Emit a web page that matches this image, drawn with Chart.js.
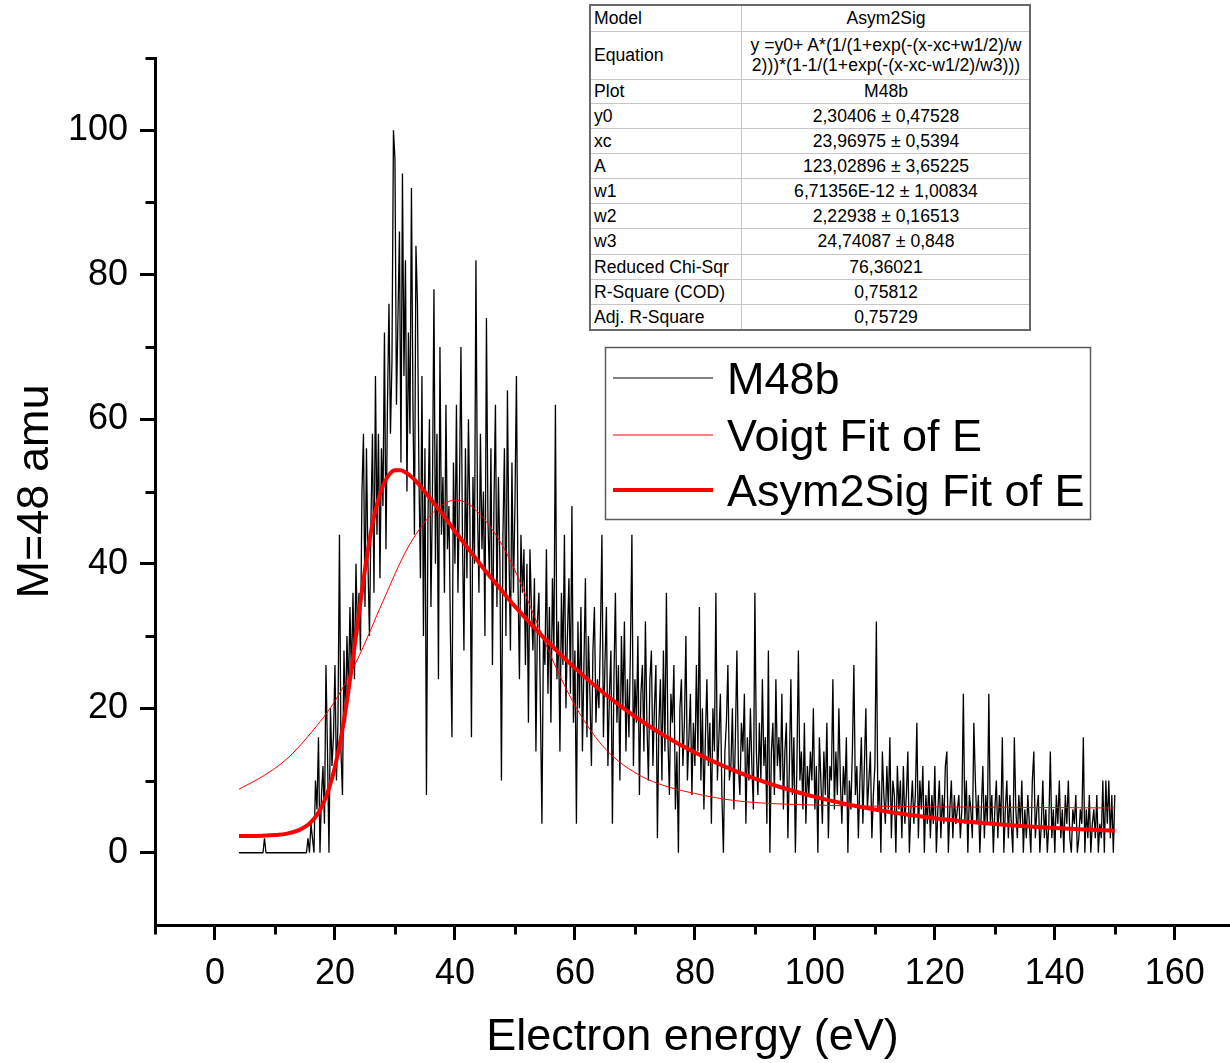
<!DOCTYPE html>
<html>
<head>
<meta charset="utf-8">
<script src="https://cdn.jsdelivr.net/npm/chart.js@4.4.1/dist/chart.umd.min.js"></script>
<style>
html,body{margin:0;padding:0;background:#fff;}
#wrap{position:relative;width:1230px;height:1063px;overflow:hidden;background:#fff;}
#c{position:absolute;left:0;top:0;}
#fitTable{position:absolute;left:589px;top:4px;width:442px;border-collapse:collapse;
  font-family:"Liberation Sans",Arial,sans-serif;font-size:17.6px;color:#000;background:#fff;
  border:2px solid #6a6a6a;}
#fitTable td{border:1px solid #c6c6c6;padding:0 2px 0 3px;line-height:20px;vertical-align:middle;white-space:nowrap;}
#fitTable td.l{width:145px;text-align:left;}
#fitTable td.v{text-align:center;}
</style>
</head>
<body>
<div id="wrap">
<canvas id="c" width="1230" height="1063"></canvas>
<table id="fitTable"><tbody id="fitBody"></tbody></table>
</div>
<script>
// ---------- data ----------
// M48b measured signal, regular energy grid
const m48bStart = 4;      // eV
const m48bStep = 0.25;    // eV
const m48bCounts = [
  0,0,0,0,0,0,0,0,0,0,0,0,0,0,0,0,0,2,0,0,            // 4 - 8.75
  0,0,0,0,0,0,0,0,0,0,0,0,0,0,0,0,0,0,0,0,            // 9 - 13.75
  0,0,0,0,0,0,2,0,4,2,0,10,6,16,0,8,12,4,26,14,       // 14 - 18.75
  0,20,12,16,26,10,18,44,14,8,28,18,30,22,34,24,36,24,40,30,   // 19 - 23.75
  36,28,50,58,34,56,40,30,46,58,36,66,44,58,38,56,48,72,42,62, // 24 - 28.75
  76,58,68,100,96,62,74,86,54,94,66,82,50,72,58,92,62,44,84,76, // 29 - 33.75
  52,38,66,30,56,8,46,60,34,50,78,40,58,24,70,44,52,36,62,42,  // 34 - 38.75
  48,30,16,54,40,62,36,50,70,44,28,56,38,60,46,16,52,40,82,48, // 39 - 43.75
  36,58,42,50,30,74,46,38,56,26,48,62,34,52,40,10,44,56,30,64, // 44 - 48.75
  42,28,54,36,48,66,38,24,44,36,42,26,40,18,42,34,28,38,14,32, // 49 - 53.75
  36,20,4,30,26,42,22,34,18,38,28,62,24,32,14,36,26,44,20,30,  // 54 - 58.75
  38,22,48,18,28,4,32,20,34,14,26,38,16,30,22,12,28,34,18,24,  // 59 - 63.75
  20,30,44,16,26,34,12,22,28,4,24,36,18,26,10,30,20,32,14,24,  // 64 - 68.75
  16,28,44,12,24,18,30,8,22,26,14,32,18,10,24,28,12,20,26,2,   // 69 - 73.75
  18,24,10,28,14,36,16,8,22,18,26,6,14,0,20,24,12,18,30,10,    // 74 - 78.75
  16,22,8,18,12,26,14,34,10,20,6,16,24,12,18,4,20,14,36,10,    // 79 - 83.75
  16,22,8,0,14,18,26,10,12,20,6,16,28,12,8,18,14,22,4,16,      // 84 - 88.75
  10,20,12,6,36,14,8,18,10,24,12,16,4,28,0,14,18,8,24,12,      // 89 - 93.75
  16,10,22,6,14,18,2,12,24,8,16,0,12,28,10,14,6,18,4,12,       // 94 - 98.75
  8,14,10,20,6,12,0,16,10,4,14,8,18,2,12,10,24,6,14,8,         // 99 - 103.75
  20,10,4,12,8,16,0,10,6,14,26,8,12,2,10,16,4,12,20,6,         // 104 - 108.75
  10,14,2,8,12,32,6,10,0,14,8,4,12,6,16,2,10,8,0,12,           // 109 - 113.75
  6,10,2,12,4,8,14,0,6,10,4,8,18,2,10,6,12,0,8,4,              // 114 - 118.75
  10,2,8,4,12,0,6,10,2,8,4,12,14,0,6,10,2,8,4,6,               // 119 - 123.75
  8,2,6,22,4,10,0,8,6,2,18,10,4,8,0,6,12,2,8,4,                // 124 - 128.75
  22,4,8,0,6,10,2,8,4,16,0,6,10,2,8,4,0,16,6,2,                // 129 - 133.75
  8,4,10,0,6,2,8,4,0,10,14,2,6,8,0,4,10,2,6,0,                 // 134 - 138.75
  4,14,2,6,0,8,4,10,2,6,0,8,4,10,2,0,6,4,8,0,                  // 139 - 143.75
  2,6,4,16,0,6,2,8,0,4,6,2,8,0,4,2,10,0,10,4,                  // 144 - 148.75
  10,2,8,0,8                                                   // 149 - 150
];

// Voigt fit curve
const voigtEnergy = [4,8,12,16,20,24,28,32,36,38,40,42,44,46,48,50,52,54,56,58,60,62,64,66,68,70,72,76,80,85,90,100,110,120,130,140,150];
const voigtValues = [8.8,10.6,13.0,16.6,21.0,27.2,34.8,42.0,46.8,48.2,48.8,48.4,47.0,45.0,42.4,39.1,35.2,31.2,27.2,23.6,20.4,17.7,15.4,13.6,12.2,11.1,10.2,9.0,8.2,7.4,6.95,6.6,6.45,6.35,6.3,6.25,6.2];

// Asym2Sig fit curve
const asymEnergy = [4,8,10,12,14,15,16,17,18,19,20,21,22,23,24,25,26,27,28,29,30,31,32,33,34,36,38,40,42.5,45,47.5,50,55,60,65,70,75,80,85,90,95,100,105,110,115,120,125,130,135,140,145,150];
const asymValues = [2.31,2.36,2.45,2.65,3.13,3.57,4.24,5.24,6.73,8.87,11.87,15.9,21.0,26.9,33.2,39.2,44.4,48.2,50.8,52.3,52.95,52.95,52.5,51.85,50.96,48.9,46.8,44.5,41.8,39.1,36.6,34.1,29.6,25.55,21.98,18.86,16.17,13.87,11.92,10.27,8.89,7.74,6.78,5.99,5.33,4.78,4.34,3.97,3.67,3.42,3.22,3.05];

const seriesLabels = ['M48b','Voigt Fit of E','Asym2Sig Fit of E'];

// axes
const xTickValues = [0,20,40,60,80,100,120,140,160];
const xMinorTicks = [-10,10,30,50,70,90,110,130,150];
const yTickValues = [0,20,40,60,80,100];
const yMinorTicks = [10,30,50,70,90,110];
const xTitle = 'Electron energy (eV)';
const yTitle = 'M=48 amu';

// fit report table
const fitTableLabels = ['Model','Equation','Plot','y0','xc','A','w1','w2','w3','Reduced Chi-Sqr','R-Square (COD)','Adj. R-Square'];
const fitTableValues = ['Asym2Sig',
  'y =y0+ A*(1/(1+exp(-(x-xc+w1/2)/w\n2)))*(1-1/(1+exp(-(x-xc-w1/2)/w3)))',
  'M48b','2,30406 \u00b1 0,47528','23,96975 \u00b1 0,5394','123,02896 \u00b1 3,65225',
  '6,71356E-12 \u00b1 1,00834','2,22938 \u00b1 0,16513','24,74087 \u00b1 0,848',
  '76,36021','0,75812','0,75729'];

// ---------- build ----------
const FONT = '"Liberation Sans", Arial, sans-serif';
const rowHeights = [26,48,24,25,25,25,25,25,26,25,25,26];
const body = document.getElementById('fitBody');
fitTableLabels.forEach((lab, i) => {
  const tr = document.createElement('tr');
  tr.style.height = rowHeights[i] + 'px';
  const a = document.createElement('td'); a.className = 'l'; a.textContent = lab;
  const b = document.createElement('td'); b.className = 'v';
  fitTableValues[i].split('\n').forEach((ln, k) => {
    if (k) b.appendChild(document.createElement('br'));
    b.appendChild(document.createTextNode(ln));
  });
  tr.appendChild(a); tr.appendChild(b); body.appendChild(tr);
});

const m48bPoints = m48bCounts.map((v, i) => ({x: m48bStart + i * m48bStep, y: v}));
const voigtPoints = voigtEnergy.map((e, i) => ({x: e, y: voigtValues[i]}));
const asymPoints = asymEnergy.map((e, i) => ({x: e, y: asymValues[i]}));

const minorTickPlugin = {
  id: 'minorTicks',
  afterDraw(chart) {
    const ctx = chart.ctx, xs = chart.scales.x, ys = chart.scales.y, a = chart.chartArea;
    ctx.save();
    ctx.strokeStyle = '#000'; ctx.lineWidth = 3; ctx.lineCap = 'butt';
    xMinorTicks.forEach(v => {
      const p = Math.round(xs.getPixelForValue(v)) + 0.5;
      ctx.beginPath(); ctx.moveTo(p, a.bottom + 1); ctx.lineTo(p, a.bottom + 9.5); ctx.stroke();
    });
    yMinorTicks.forEach(v => {
      const p = Math.round(ys.getPixelForValue(v)) + 0.5;
      ctx.beginPath(); ctx.moveTo(a.left - 1, p); ctx.lineTo(a.left - 9.5, p); ctx.stroke();
    });
    ctx.restore();
  }
};

const legendBoxPlugin = {
  id: 'legendBox',
  afterDraw(chart) {
    const ctx = chart.ctx;
    const box = {left: 605, top: 347, width: 486, height: 173};
    ctx.save();
    ctx.fillStyle = '#fff';
    ctx.fillRect(box.left, box.top, box.width, box.height);
    ctx.strokeStyle = '#5a5a5a'; ctx.lineWidth = 1.5;
    ctx.strokeRect(box.left + 0.5, box.top + 0.5, box.width - 1, box.height - 1);
    const rowsY = [378, 435, 490];
    ctx.font = '45px ' + FONT;
    ctx.textBaseline = 'alphabetic';
    ctx.textAlign = 'left';
    chart.data.datasets.forEach((ds, i) => {
      const y = rowsY[i];
      ctx.strokeStyle = ds.borderColor; ctx.lineWidth = ds.legendLineWidth || ds.borderWidth;
      ctx.beginPath(); ctx.moveTo(613, y); ctx.lineTo(713, y); ctx.stroke();
      ctx.fillStyle = '#000';
      ctx.fillText(ds.label, 727, y + 16);
    });
    ctx.restore();
  }
};

new Chart(document.getElementById('c'), {
  type: 'line',
  data: {
    datasets: [
      {label: seriesLabels[0], data: m48bPoints, borderColor: '#000000', borderWidth: 1.3, legendLineWidth: 1,
       pointRadius: 0, tension: 0, borderJoinStyle: 'bevel', order: 3},
      {label: seriesLabels[1], data: voigtPoints, borderColor: '#ff0000', borderWidth: 1,
       pointRadius: 0, cubicInterpolationMode: 'monotone', order: 2},
      {label: seriesLabels[2], data: asymPoints, borderColor: '#ff0000', borderWidth: 4,
       pointRadius: 0, cubicInterpolationMode: 'monotone', order: 1}
    ]
  },
  options: {
    responsive: false,
    animation: false,
    parsing: false,
    layout: {padding: {top: 58, right: 0, bottom: 0, left: 0}},
    plugins: {legend: {display: false}, tooltip: {enabled: false}},
    scales: {
      x: {
        type: 'linear', min: -10, max: 169.2,
        afterBuildTicks: s => { s.ticks = xTickValues.map(v => ({value: v})); },
        ticks: {font: {family: FONT, size: 36}, color: '#000', padding: 12, maxRotation: 0, autoSkip: false},
        grid: {drawOnChartArea: false, drawTicks: true, tickLength: 15, tickWidth: 3, tickColor: '#000'},
        border: {display: true, color: '#000', width: 3},
        title: {display: true, text: xTitle, color: '#000', font: {family: FONT, size: 45, lineHeight: 1},
                padding: {top: 0, bottom: 3}},
        afterFit: s => { s.height = 138; }
      },
      y: {
        type: 'linear', min: -10, max: 110,
        afterBuildTicks: s => { s.ticks = yTickValues.map(v => ({value: v})); },
        ticks: {font: {family: FONT, size: 36}, color: '#000', padding: 12},
        grid: {drawOnChartArea: false, drawTicks: true, tickLength: 15, tickWidth: 3, tickColor: '#000'},
        border: {display: true, color: '#000', width: 3},
        title: {display: true, text: yTitle, color: '#000', font: {family: FONT, size: 45, lineHeight: 1},
                padding: {top: 13, bottom: 0}},
        afterFit: s => { s.width = 155; }
      }
    }
  },
  plugins: [minorTickPlugin, legendBoxPlugin]
});
</script>
</body>
</html>
